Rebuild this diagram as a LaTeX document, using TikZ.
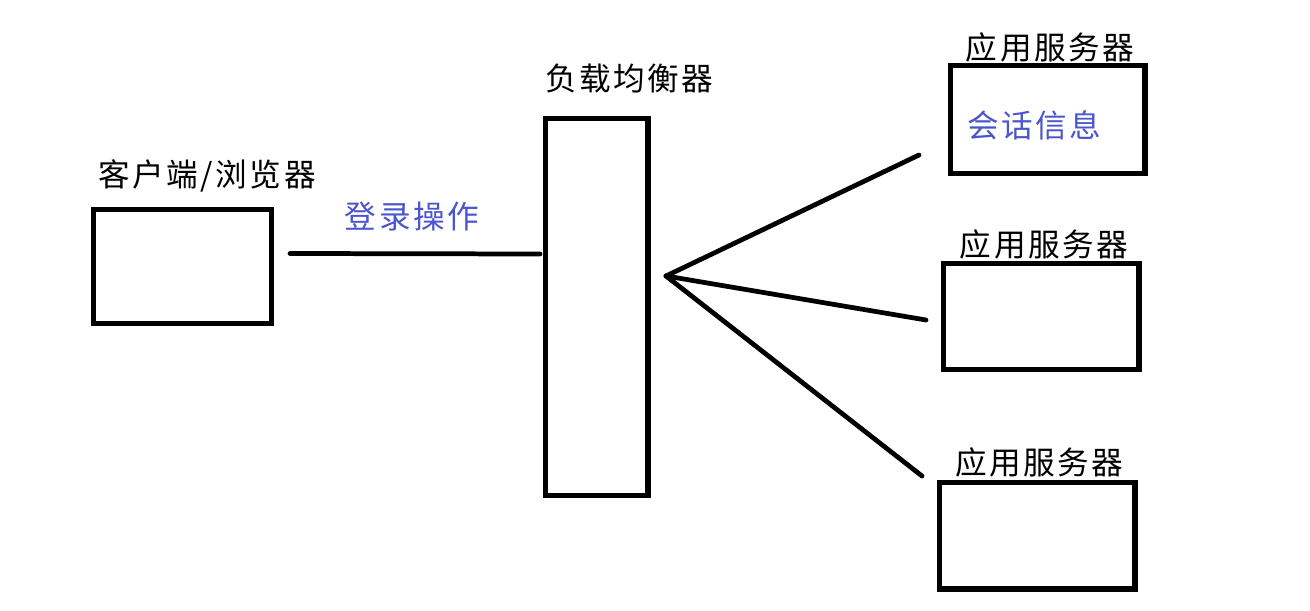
\documentclass[tikz,border=0pt]{standalone}
\usepackage{fontspec}
\setmainfont{Noto Sans CJK SC}[LetterSpace=8]
\usetikzlibrary{positioning}
\definecolor{noteblue}{RGB}{75,85,205}

\begin{document}
\begin{tikzpicture}[x=0.02cm,y=-0.02cm,
  box/.style={draw,line width=2.85pt,rectangle,inner sep=0pt,outer sep=0pt},
  lbl/.style={inner sep=0pt,font=\fontsize{18pt}{20pt}\selectfont},
  note/.style={lbl,text=noteblue},
  link/.style={line width=2.7pt,line cap=round}]
  \useasboundingbox (0,0) rectangle (1310,611);
  % boxes
  \node[box,minimum width=3.58cm,minimum height=2.30cm] (client) at (182.5,266.5) {};
  \node[box,minimum width=2.06cm,minimum height=7.56cm] (lb) at (596.5,307) {};
  \node[box,minimum width=3.90cm,minimum height=2.16cm] (srvA) at (1047.5,119.5) {};
  \node[box,minimum width=3.92cm,minimum height=2.14cm] (srvB) at (1041,316.5) {};
  \node[box,minimum width=3.92cm,minimum height=2.14cm] (srvC) at (1037,535.5) {};
  % labels
  \node[lbl] (clientlbl) at (207,175.5) {客户端/浏览器};
  \node[lbl] (lblbl) at (629.5,79) {负载均衡器};
  \node[lbl] (srvAlbl) at (1050,47.5) {应用服务器};
  \node[lbl] (srvBlbl) at (1044,244.5) {应用服务器};
  \node[lbl] (srvClbl) at (1039.5,462.5) {应用服务器};
  \node[note] (login) at (412,216.5) {登录操作};
  \node[note] (session) at (1034.5,125.5) {会话信息};
  % connectors
  \coordinate (cliout) at (290,253.5);
  \coordinate (lbin) at (540,254);
  \coordinate (hub) at (666,276);
  \coordinate (toA) at (919,155);
  \coordinate (toB) at (926,320);
  \coordinate (toC) at (922,476);
  \draw[link] (cliout) -- (lbin);
  \draw[link] (hub) -- (toA);
  \draw[link] (hub) -- (toB);
  \draw[link] (hub) -- (toC);
\end{tikzpicture}
\end{document}
